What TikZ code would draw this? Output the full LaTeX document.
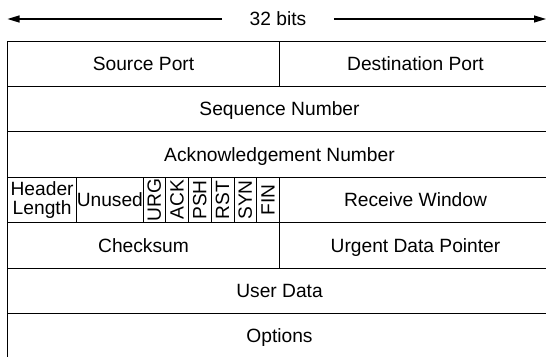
\documentclass[tikz,border=0pt]{standalone}
\usepackage{fontspec}
\setmainfont{Liberation Sans}
\usepackage{tikz}
\usetikzlibrary{arrows.meta, positioning}
\tikzstyle{arrow} = [line width=1.2pt,-{Triangle[length=12pt,width=7pt]}]
\tikzstyle{cell} = [rectangle, draw=black, line width=1pt, minimum height=45.4pt, inner sep=0pt, outer sep=0pt, text centered, font=\fontsize{19.2}{18.5}\selectfont]
\tikzstyle{field} = [cell, text height=13.75pt, text depth=0pt]
\tikzstyle{half} = [field, minimum width=272pt]
\tikzstyle{full} = [field, minimum width=544pt]
\tikzstyle{flag} = [cell, minimum width=22.75pt]

\begin{document}
\begin{tikzpicture}[x=1pt, y=1pt]
\useasboundingbox (0,0) rectangle (546,-356);
\clip (0,0) rectangle (546,-356);

% Width label with arrows
\node (bits) [inner xsep=27.5pt, inner ysep=0pt, font=\fontsize{19.2}{18.5}\selectfont] at (278,-19) {32 bits};
\coordinate (leftend) at (7.5,-19);
\coordinate (rightend) at (546,-19);

% Rows of the header
\node (srcport) [half, anchor=north west] at (7.5,-41) {Source Port};
\node (dstport) [half, right=0pt of srcport] {Destination Port};
\node (seqnum) [full, below=0pt of srcport.south east] {Sequence Number};
\node (acknum) [full, below=0pt of seqnum] {Acknowledgement Number};
\node (hdrlen) [cell, align=center, minimum width=69.2pt, anchor=north west] at (acknum.south west) {Header\\Length};
\node (unused) [field, minimum width=66.3pt, right=0pt of hdrlen] {Unused};
\node (urg) [flag, right=0pt of unused] {\rotatebox{90}{URG}};
\node (ack) [flag, right=0pt of urg] {\rotatebox{90}{ACK}};
\node (psh) [flag, right=0pt of ack] {\rotatebox{90}{PSH}};
\node (rst) [flag, right=0pt of psh] {\rotatebox{90}{RST}};
\node (syn) [flag, right=0pt of rst] {\rotatebox{90}{SYN}};
\node (fin) [flag, right=0pt of syn] {\rotatebox{90}{FIN}};
\node (rcvwin) [half, right=0pt of fin] {Receive Window};
\node (checksum) [half, anchor=north west] at (hdrlen.south west) {Checksum};
\node (urgptr) [half, right=0pt of checksum] {Urgent Data Pointer};
\node (userdata) [full, below=0pt of checksum.south east] {User Data};
\node (options) [full, below=0pt of userdata] {Options};

% Arrows
\draw [arrow] (bits) -- (leftend);
\draw [arrow] (bits) -- (rightend);

\end{tikzpicture}
\end{document}
